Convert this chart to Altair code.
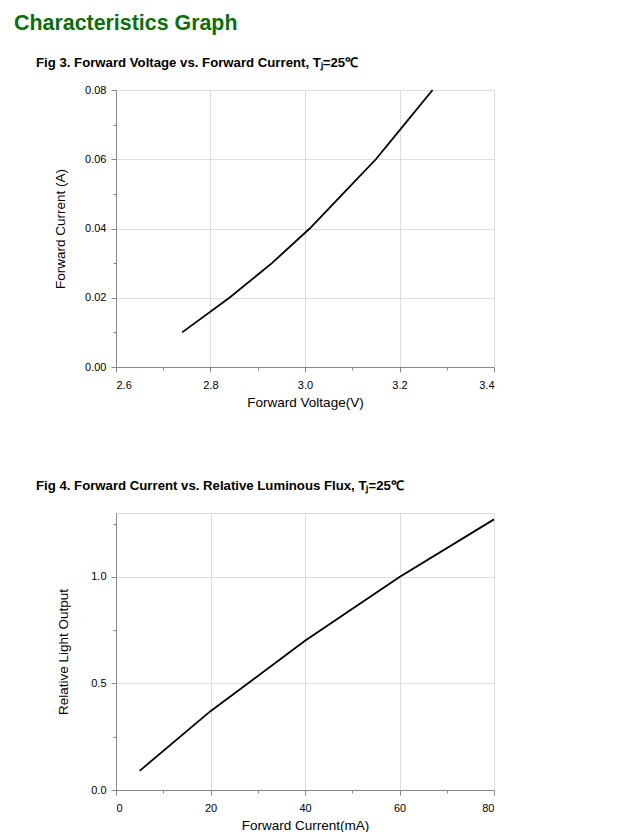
import altair as alt
import pandas as pd

# Fig 3 data
vf_volts = [2.74, 2.84, 2.93, 3.01, 3.08, 3.15, 3.21, 3.27]
if_amps = [0.010, 0.020, 0.030, 0.040, 0.050, 0.060, 0.070, 0.080]

# Fig 4 data
if_ma = [5, 20, 40, 60, 80]
rel_light = [0.09, 0.37, 0.70, 1.00, 1.27]

x1_ticks = [2.6, 2.7, 2.8, 2.9, 3.0, 3.1, 3.2, 3.3, 3.4]
y1_ticks = [0.0, 0.01, 0.02, 0.03, 0.04, 0.05, 0.06, 0.07, 0.08]
x2_ticks = [0, 10, 20, 30, 40, 50, 60, 70, 80]
y2_ticks = [0.0, 0.25, 0.5, 0.75, 1.0, 1.25]

FONT = "Liberation Sans"

df1 = pd.DataFrame({"v": vf_volts, "i": if_amps})
df2 = pd.DataFrame({"i": if_ma, "l": rel_light})


def axis(values, major_test, fmt, title, title_padding, label_padding):
    return alt.Axis(
        values=values,
        title=title,
        titleFontWeight="normal",
        titleFont=FONT,
        titleFontSize=13.5,
        labelFont=FONT,
        labelFontSize=11,
        labelExpr=f"({major_test}) ? format(datum.value, '{fmt}') : ''",
        tickSize={"expr": f"({major_test}) ? 5 : 3"},
        gridOpacity={"expr": f"({major_test}) ? 1 : 0"},
        titlePadding=title_padding,
        labelPadding=label_padding,
    )


line1 = alt.Chart(df1).mark_line(color="black", strokeWidth=1.8).encode(
    x=alt.X("v:Q", scale=alt.Scale(domain=[2.6, 3.4], nice=False),
            axis=axis(x1_ticks, "round(datum.value*10) % 2 == 0", ".1f",
                      "Forward Voltage(V)", 5, 7)),
    y=alt.Y("i:Q", scale=alt.Scale(domain=[0, 0.08], nice=False),
            axis=axis(y1_ticks, "round(datum.value*100) % 2 == 0", ".2f",
                      "Forward Current (A)", 17, 5)),
).properties(
    width=378, height=277,
    title=alt.TitleParams("Fig 3. Forward Voltage vs. Forward Current, Tⱼ=25℃",
                          anchor="start", frame="group", fontSize=13.2,
                          fontWeight="bold", font=FONT, color="black",
                          dx=-80, offset=14),
)

line2 = alt.Chart(df2).mark_line(color="black", strokeWidth=1.8).encode(
    x=alt.X("i:Q", scale=alt.Scale(domain=[0, 80], nice=False),
            axis=axis(x2_ticks, "datum.value % 20 == 0", "d",
                      "Forward Current(mA)", 5, 7)),
    y=alt.Y("l:Q", scale=alt.Scale(domain=[0, 1.3], nice=False),
            axis=axis(y2_ticks, "round(datum.value*4) % 2 == 0", ".1f",
                      "Relative Light Output", 20, 5)),
).properties(
    width=378, height=277,
    title=alt.TitleParams("Fig 4. Forward Current vs. Relative Luminous Flux, Tⱼ=25℃",
                          anchor="start", frame="group", fontSize=13.2,
                          fontWeight="bold", font=FONT, color="black",
                          dx=-80, offset=20),
)

chart = alt.vconcat(line1, line2, spacing=69).properties(
    title=alt.TitleParams("Characteristics Graph", anchor="start", frame="group",
                          fontSize=21.4, fontWeight="bold", font=FONT,
                          color="#0b6e0b", dx=-102, offset=21),
    padding={"left": 6, "top": 4, "right": 10, "bottom": 0},
).configure_view(
    stroke="#444", strokeWidth=1,
).configure_axis(
    labelColor="black", titleColor="black",
    domainColor="black", tickColor="black", gridColor="#d4d4d4",
    domainWidth=1, tickWidth=1,
).configure(background="white")

chart.save("out.html", embed_options={"renderer": "svg", "actions": False})
